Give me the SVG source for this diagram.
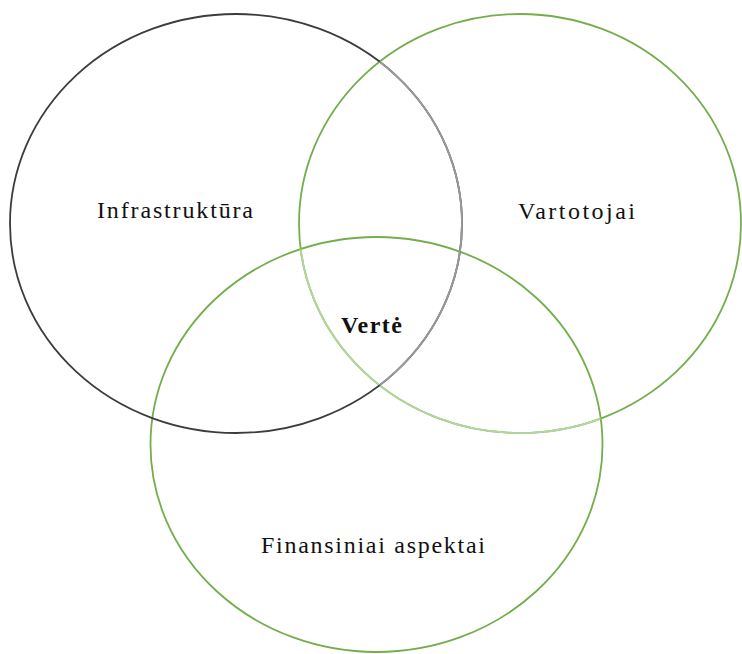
<svg xmlns="http://www.w3.org/2000/svg" width="742" height="654" viewBox="0 0 742 654">
  <defs>
    <style>
      .ring { fill: none; stroke-width: 1.8; }
      .dark { stroke: #3c3c3c; }
      .grey { stroke: #9a9a9a; }
      .green { stroke: #74ae4c; }
      .lightgreen { stroke: #b4d69c; }
      .lbl { font-family: "Liberation Serif", "Times New Roman", serif; font-size: 24px; fill: #111; }
      .bold { font-weight: bold; }
    </style>
    <clipPath id="inRight">
      <ellipse cx="520" cy="223.5" rx="221" ry="209.5"/>
    </clipPath>
    <clipPath id="inBottom">
      <ellipse cx="376.5" cy="444.5" rx="226" ry="207.5"/>
    </clipPath>
  </defs>
  <rect x="0" y="0" width="742" height="654" fill="#ffffff"/>

  <g id="node-finansiniai">
    <ellipse class="ring green" cx="376.5" cy="444.5" rx="226" ry="207.5"/>
    <text class="lbl" x="261" y="553" textLength="224" lengthAdjust="spacing">Finansiniai aspektai</text>
  </g>

  <g id="node-vartotojai">
    <ellipse class="ring green" cx="520" cy="223.5" rx="221" ry="209.5"/>
    <ellipse class="ring lightgreen" cx="520" cy="223.5" rx="221" ry="209.5" clip-path="url(#inBottom)"/>
    <text class="lbl" x="518" y="219" textLength="117" lengthAdjust="spacing">Vartotojai</text>
  </g>

  <g id="node-infrastruktura">
    <ellipse class="ring dark" cx="236" cy="223.5" rx="226" ry="209.5"/>
    <ellipse class="ring grey" cx="236" cy="223.5" rx="226" ry="209.5" clip-path="url(#inRight)"/>
    <text class="lbl" x="97" y="218" textLength="156" lengthAdjust="spacing">Infrastruktūra</text>
  </g>

  <g id="node-verte">
    <text class="lbl bold" x="341" y="333" textLength="61" lengthAdjust="spacing">Vertė</text>
  </g>

  <g id="connectors"></g>
</svg>
